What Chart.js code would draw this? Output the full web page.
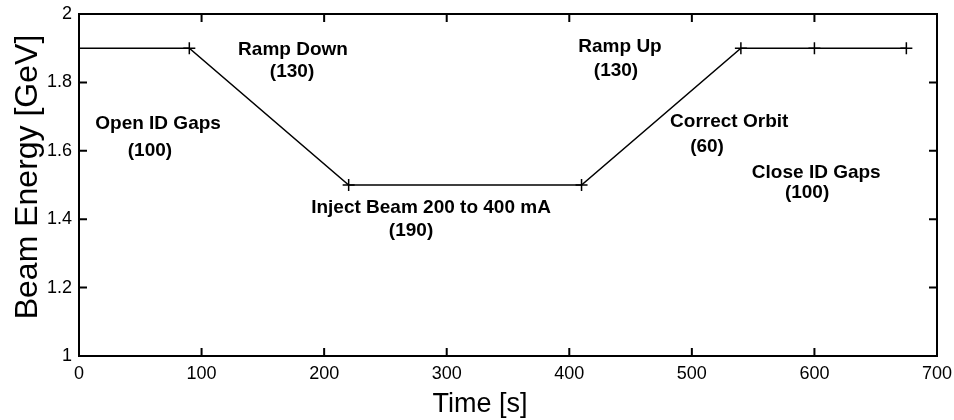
<!DOCTYPE html>
<html>
<head>
<meta charset="utf-8">
<script src="https://cdn.jsdelivr.net/npm/chart.js@4"></script>
<style>
  html, body { margin: 0; padding: 0; background: #fff; }
  #wrap { width: 954px; height: 420px; }
</style>
</head>
<body>
<div id="wrap"><canvas id="myChart"></canvas></div>
<script>
const timeS = [0, 90, 220, 410, 540, 600, 675];
const energyGeV = [1.9, 1.9, 1.5, 1.5, 1.9, 1.9, 1.9];

const stepNames = ["Open ID Gaps", "Ramp Down", "Inject Beam 200 to 400 mA", "Ramp Up", "Correct Orbit", "Close ID Gaps"];
const stepSeconds = ["(100)", "(130)", "(190)", "(130)", "(60)", "(100)"];
// label anchors in data units: name line, then the duration line
const stepNameX = [64.5, 174.6, 287.2, 441.4, 530.5, 601.5];
const stepNameY = [1.678, 1.895, 1.433, 1.904, 1.684, 1.535];
const stepSecX = [57.9, 173.8, 270.9, 438.1, 512.4, 594];
const stepSecY = [1.599, 1.830, 1.365, 1.833, 1.611, 1.477];

const xTicks = [0, 100, 200, 300, 400, 500, 600, 700];
const yTicks = [1, 1.2, 1.4, 1.6, 1.8, 2];

const xTitle = 'Time [s]';
const yTitle = 'Beam Energy [GeV]';

const FONT = "'Liberation Sans', Arial, sans-serif";

// box frame with inward ticks on all four sides (matlab style), labels, axis titles
const boxPlugin = {
  id: 'box',
  afterDatasetsDraw(chart) {
    const { ctx, chartArea: a, scales } = chart;
    const tl = 8;
    ctx.save();
    ctx.strokeStyle = '#000';
    ctx.lineWidth = 2;
    ctx.strokeRect(a.left, a.top, a.right - a.left, a.bottom - a.top);
    ctx.beginPath();
    xTicks.forEach(v => {
      const px = scales.x.getPixelForValue(v);
      ctx.moveTo(px, a.bottom); ctx.lineTo(px, a.bottom - tl);
      ctx.moveTo(px, a.top); ctx.lineTo(px, a.top + tl);
    });
    yTicks.forEach(v => {
      const py = scales.y.getPixelForValue(v);
      ctx.moveTo(a.left, py); ctx.lineTo(a.left + tl, py);
      ctx.moveTo(a.right, py); ctx.lineTo(a.right - tl, py);
    });
    ctx.stroke();

    ctx.fillStyle = '#000';
    ctx.textAlign = 'center';
    ctx.textBaseline = 'middle';

    // step annotations
    ctx.font = 'bold 19px ' + FONT;
    stepNames.forEach((name, i) => {
      ctx.fillText(name, scales.x.getPixelForValue(stepNameX[i]), scales.y.getPixelForValue(stepNameY[i]));
      ctx.fillText(stepSeconds[i], scales.x.getPixelForValue(stepSecX[i]), scales.y.getPixelForValue(stepSecY[i]));
    });

    // axis titles, sitting a bit off the plot centre like the original
    ctx.font = '27px ' + FONT;
    ctx.fillText(xTitle, (a.left + a.right) / 2 - 28, 405);
    ctx.translate(28, (a.top + a.bottom) / 2 - 8);
    ctx.rotate(-Math.PI / 2);
    ctx.font = '32px ' + FONT;
    ctx.fillText(yTitle, 0, 0);
    ctx.restore();
  }
};

new Chart(document.getElementById('myChart'), {
  type: 'line',
  data: {
    labels: timeS,
    datasets: [{
      data: timeS.map((t, i) => ({ x: t, y: energyGeV[i] })),
      borderColor: '#000',
      borderWidth: 1.5,
      pointStyle: 'cross',
      pointRadius: c => c.dataIndex === 0 ? 0 : 6,
      pointBorderColor: '#000',
      pointBorderWidth: 1.5,
      tension: 0,
      fill: false
    }]
  },
  options: {
    responsive: true,
    maintainAspectRatio: false,
    animation: false,
    events: [],
    layout: { padding: { left: 0, right: 17, top: 14, bottom: 0 } },
    plugins: { legend: { display: false }, tooltip: { enabled: false } },
    scales: {
      x: {
        type: 'linear',
        min: 0, max: 700,
        afterFit: s => { s.height = 64; s.paddingLeft = 0; s.paddingRight = 0; },
        afterBuildTicks: s => { s.ticks = xTicks.map(v => ({ value: v })); },
        grid: { display: false, drawTicks: false },
        border: { display: false },
        ticks: { color: '#000', padding: 7, font: { family: FONT, size: 18 }, maxRotation: 0 }
      },
      y: {
        min: 1, max: 2,
        afterFit: s => { s.width = 79; s.paddingTop = 0; s.paddingBottom = 0; },
        afterBuildTicks: s => { s.ticks = yTicks.map(v => ({ value: v })); },
        grid: { display: false, drawTicks: false },
        border: { display: false },
        ticks: { color: '#000', padding: 7, font: { family: FONT, size: 18 }, callback: v => String(v) }
      }
    }
  },
  plugins: [boxPlugin]
});
</script>
</body>
</html>
